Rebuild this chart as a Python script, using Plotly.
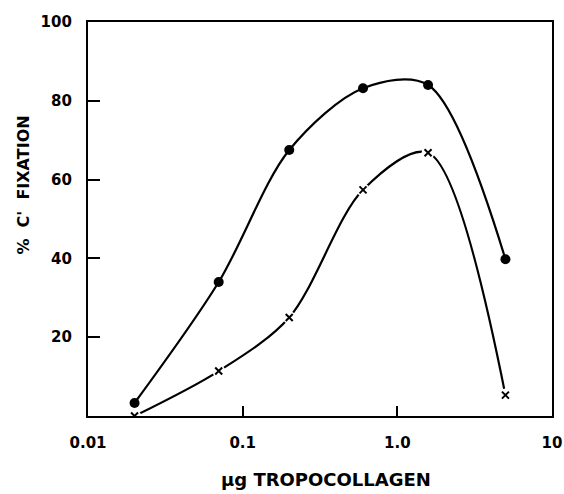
import plotly.graph_objects as go

# Data
dose_dots = [0.02, 0.07, 0.2, 0.6, 1.58, 5.0]
fix_dots = [3.3, 34.0, 67.5, 83.2, 84.0, 39.8]

dose_x = [0.02, 0.07, 0.2, 0.6, 1.58, 5.0]
fix_x = [0.0, 11.4, 25.0, 57.4, 66.8, 5.3]

x_tickvals = [0.01, 0.1, 1.0, 10]
x_ticktext = ["0.01", "0.1", "1.0", "10"]
y_tickvals = [20, 40, 60, 80, 100]
y_ticktext = ["20", "40", "60", "80", "100"]

FONT = "DejaVu Sans"
NB = "\u00a0"

fig = go.Figure()

# smooth curves
fig.add_trace(go.Scatter(x=dose_dots, y=fix_dots, mode="lines",
                         line=dict(color="black", width=2.2, shape="spline", smoothing=0.9),
                         hoverinfo="skip", showlegend=False))
fig.add_trace(go.Scatter(x=dose_x, y=fix_x, mode="lines",
                         line=dict(color="black", width=2.2, shape="spline", smoothing=0.9),
                         hoverinfo="skip", showlegend=False))
# white gaps around the x markers
fig.add_trace(go.Scatter(x=dose_x, y=fix_x, mode="markers",
                         marker=dict(symbol="circle", size=13, color="white"),
                         hoverinfo="skip", showlegend=False))
# markers
fig.add_trace(go.Scatter(x=dose_dots, y=fix_dots, mode="markers",
                         marker=dict(symbol="circle", size=10, color="black"),
                         showlegend=False))
fig.add_trace(go.Scatter(x=dose_x, y=fix_x, mode="markers",
                         marker=dict(symbol="x-thin-open", size=7, color="black",
                                     line=dict(color="black", width=2)),
                         showlegend=False))

fig.update_layout(
    width=564, height=494,
    margin=dict(l=88, r=12, t=22, b=78),
    paper_bgcolor="white", plot_bgcolor="white",
    font=dict(family=FONT, color="black"),
    xaxis=dict(type="log", range=[-2, 1], tickvals=x_tickvals, ticktext=x_ticktext,
               ticks="inside", ticklen=10, tickwidth=2, tickcolor="black",
               showline=True, linecolor="black", linewidth=2.2, mirror=True,
               showgrid=False, zeroline=False, automargin=False,
               ticklabelstandoff=12,
               tickfont=dict(family=FONT, size=15, weight="bold")),
    yaxis=dict(range=[0, 100], tickvals=y_tickvals, ticktext=y_ticktext,
               ticks="inside", ticklen=12, tickwidth=1.5, tickcolor="black",
               showline=True, linecolor="black", linewidth=2.2, mirror=True,
               showgrid=False, zeroline=False, automargin=False,
               ticklabelstandoff=11,
               tickfont=dict(family=FONT, size=15, weight="bold")),
    annotations=[
        dict(text=f"%{NB}{NB}C'{NB}{NB}FIXATION", textangle=-90, xref="paper", yref="paper",
             x=-0.14, y=0.585, xanchor="center", yanchor="middle", showarrow=False,
             font=dict(family=FONT, size=16, weight="bold")),
        dict(text="μg TROPOCOLLAGEN", xref="paper", yref="paper",
             x=0.513, y=-0.162, xanchor="center", yanchor="middle", showarrow=False,
             font=dict(family=FONT, size=18, weight="bold")),
    ],
)

# remove the page's default body margin so the figure fills the window exactly
fig.write_html("out.html",
               config={"displayModeBar": False},
               post_script="document.body.style.margin='0';document.body.style.overflow='hidden';")
